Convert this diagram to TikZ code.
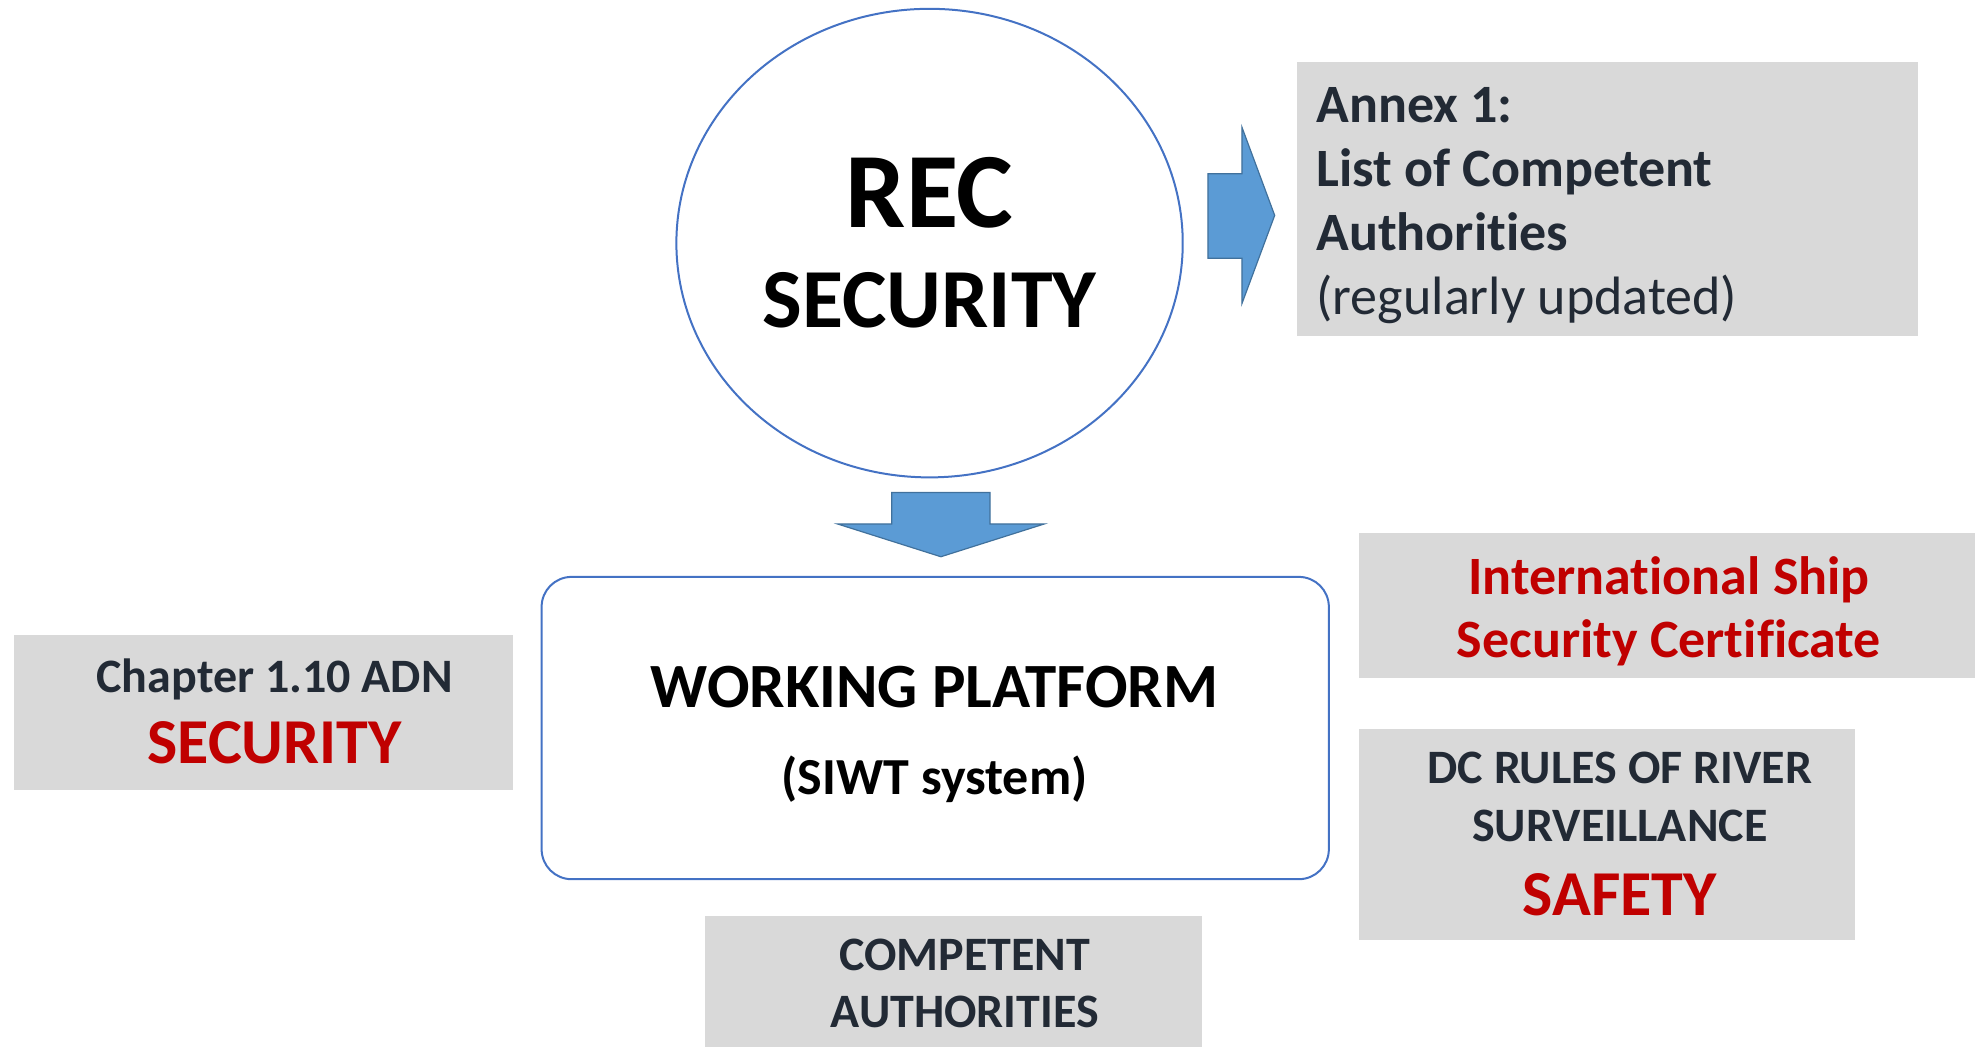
\documentclass[tikz,border=0pt]{standalone}
\usepackage{fontspec}
\setmainfont{Carlito}[Ligatures={NoCommon}]
\usetikzlibrary{positioning, shapes.geometric}

\definecolor{lineblue}{HTML}{4472C4}
\definecolor{arrowfill}{HTML}{5B9BD5}
\definecolor{arrowline}{HTML}{41719C}
\definecolor{boxgrey}{HTML}{D9D9D9}
\definecolor{darktext}{HTML}{222A35}
\definecolor{redtext}{HTML}{C00000}
\newcommand{\dpx}{1.2596pt}

\tikzset{
	greybox/.style={fill=boxgrey, inner sep=0pt},
	boxtext/.style={inner sep=0pt, align=center, font=\bfseries, text=darktext},
	blockarrow/.style={fill=arrowfill, draw=arrowline, line width=1.2pt, line join=miter}
}

\begin{document}
\begin{tikzpicture}[x=\dpx, y=-\dpx]
				\useasboundingbox (0,0) rectangle (1568,831);
				\node (rec_circle) [draw=lineblue, line width=2pt, ellipse, minimum width=402*\dpx, minimum height=372*\dpx] at (738,193) {};
				\node (rec_title) [anchor=base, inner sep=0pt, font=\bfseries\fontsize{107}{107}\selectfont] at (738,181) {REC};
				\node (rec_sub) [anchor=base, inner sep=0pt, font=\bfseries\fontsize{84}{84}\selectfont] at (738,260) {SECURITY};
				\filldraw [blockarrow] (959,138) -- (986,138) -- (986,101) -- (1012,171) -- (986,241) -- (986,205) -- (959,205) -- cycle;
				\node (annex_box) [greybox, minimum width=493*\dpx, minimum height=218*\dpx] at (1276.5,158) {};
				\node (annex_text) [boxtext, align=left, anchor=west, font=\fontsize{54}{64}\selectfont] at (1045,163) {\textbf{Annex 1:}\\\textbf{List of Competent}\\\textbf{Authorities}\\(regularly updated)};
				\filldraw [blockarrow] (708,391) -- (786,391) -- (786,416) -- (829,416) -- (747,442) -- (665,416) -- (708,416) -- cycle;
				\node (platform_box) [draw=lineblue, line width=2pt, rounded corners=30pt, minimum width=625*\dpx, minimum height=240*\dpx] at (742.5,578) {};
				\node (platform_title) [anchor=base, inner sep=0pt, font=\bfseries\fontsize{63}{63}\selectfont] at (742,562) {WORKING PLATFORM};
				\node (platform_sub) [anchor=base, inner sep=0pt, font=\bfseries\fontsize{52}{52}\selectfont] at (742,631) {(SIWT system)};
				\node (chapter_box) [greybox, minimum width=396*\dpx, minimum height=123*\dpx] at (209,565.5) {};
				\node (chapter_text) [boxtext, anchor=base, font=\bfseries\fontsize{48}{48}\selectfont] at (218,550) {Chapter 1.10 ADN};
				\node (chapter_sub) [boxtext, anchor=base, text=redtext, font=\bfseries\fontsize{64}{64}\selectfont] at (218,606) {SECURITY};
				\node (ship_box) [greybox, minimum width=489*\dpx, minimum height=115*\dpx] at (1323.5,480.5) {};
				\node (ship_text) [boxtext, text=redtext, font=\bfseries\fontsize{54}{63}\selectfont] at (1325,485) {International Ship\\Security Certificate};
				\node (rules_box) [greybox, minimum width=394*\dpx, minimum height=167*\dpx] at (1276,662.5) {};
				\node (rules_text) [boxtext, font=\bfseries\fontsize{48}{58}\selectfont] at (1286,633) {DC RULES OF RIVER\\SURVEILLANCE};
				\node (rules_sub) [boxtext, anchor=base, text=redtext, font=\bfseries\fontsize{64}{64}\selectfont] at (1286,727) {SAFETY};
				\node (competent_box) [greybox, minimum width=394*\dpx, minimum height=104*\dpx] at (757,779) {};
				\node (competent_text) [boxtext, font=\bfseries\fontsize{48}{57}\selectfont] at (766,781) {COMPETENT\\AUTHORITIES};
			\end{tikzpicture}
\end{document}
